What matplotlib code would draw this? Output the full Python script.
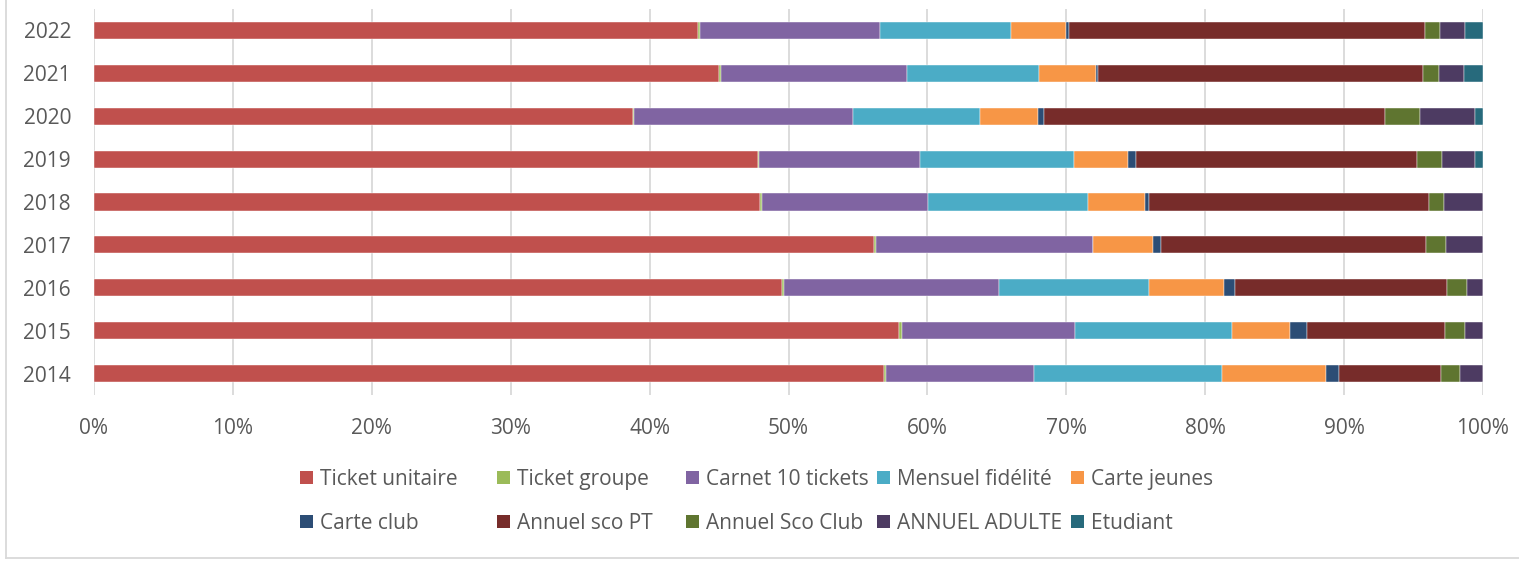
import matplotlib
matplotlib.use("Agg")
import matplotlib.pyplot as plt
from matplotlib.patches import Patch
from matplotlib.lines import Line2D
from matplotlib.ticker import PercentFormatter
import numpy as np

years = ["2014", "2015", "2016", "2017", "2018", "2019", "2020", "2021", "2022"]

series_names = ["Ticket unitaire", "Ticket groupe", "Carnet 10 tickets", "Mensuel fidélité",
                "Carte jeunes", "Carte club", "Annuel sco PT", "Annuel Sco Club",
                "ANNUEL ADULTE", "Etudiant"]

ticket_unitaire = [56.88, 57.98, 49.55, 56.15, 47.95, 47.80, 38.80, 45.00, 43.50]
ticket_groupe = [0.12, 0.20, 0.10, 0.15, 0.12, 0.10, 0.10, 0.15, 0.15]
carnet_10 = [10.67, 12.45, 15.50, 15.65, 11.97, 11.57, 15.74, 13.38, 12.95]
mensuel_fidelite = [13.56, 11.30, 10.80, 0.00, 11.52, 11.08, 9.15, 9.50, 9.40]
carte_jeunes = [7.44, 4.15, 5.40, 4.29, 4.11, 3.89, 4.17, 4.13, 4.00]
carte_club = [0.98, 1.27, 0.82, 0.60, 0.31, 0.60, 0.41, 0.14, 0.20]
annuel_sco_pt = [7.33, 9.91, 15.26, 19.06, 20.13, 20.21, 24.57, 23.36, 25.60]
annuel_sco_club = [1.36, 1.47, 1.42, 1.46, 1.06, 1.82, 2.50, 1.20, 1.10]
annuel_adulte = [1.66, 1.27, 1.15, 2.64, 2.83, 2.35, 3.98, 1.79, 1.80]
etudiant = [0.00, 0.00, 0.00, 0.00, 0.00, 0.58, 0.58, 1.35, 1.30]

series = [ticket_unitaire, ticket_groupe, carnet_10, mensuel_fidelite, carte_jeunes,
          carte_club, annuel_sco_pt, annuel_sco_club, annuel_adulte, etudiant]

colors = ["#C0504D", "#9BBB59", "#8064A2", "#4BACC6", "#F79646",
          "#2C4D75", "#772C2A", "#5F7530", "#4D3B62", "#276A7C"]

plt.rcParams['font.family'] = ['Open Sans', 'DejaVu Sans']
text_color = "#595959"

fig = plt.figure(figsize=(15.19, 5.62), dpi=100)
ax = fig.add_axes([94 / 1519, 1 - 395 / 562, (1483 - 94) / 1519, (395 - 9) / 562])

data = np.array(series, dtype=float)
totals = data.sum(axis=0)
pct = data / totals * 100
y = np.arange(len(years))
left = np.zeros(len(years))
for name, vals, col in zip(series_names, pct, colors):
    ax.barh(y, vals, left=left, height=0.40, color=col, edgecolor="white",
            linewidth=0.3, label=name, zorder=3)
    left += vals

ax.set_xlim(0, 100)
ax.set_ylim(-0.5, len(years) - 0.5)
ax.set_yticks(y)
ax.set_yticklabels(years)
ax.set_xticks(np.arange(0, 101, 10))
ax.xaxis.set_major_formatter(PercentFormatter(decimals=0))
ax.tick_params(axis="both", length=0, labelsize=15, labelcolor=text_color)
ax.tick_params(axis="x", pad=16.5)
ax.tick_params(axis="y", pad=16.5)
ax.grid(axis="x", color="#D9D9D9", linewidth=1.3, zorder=0)
for s in ax.spines.values():
    s.set_visible(False)

# legend: five one-column legends
col_x = [300, 497, 686, 877, 1071]
for c in range(5):
    handles = []
    for r in range(2):
        i = r * 5 + c
        handles.append(Patch(facecolor=colors[i], edgecolor="none", label=series_names[i]))
    fig.legend(handles=handles, loc="upper left",
               bbox_to_anchor=(col_x[c] / 1519, 1 - 469 / 562),
               frameon=False, fontsize=15, labelcolor=text_color,
               handlelength=0.62, handleheight=0.62, handletextpad=0.35,
               labelspacing=1.1, borderpad=0, borderaxespad=0)

# outer chart border (left and bottom visible)
fig.add_artist(Line2D([5.5 / 1519, 5.5 / 1519], [1 - 558 / 562, 1.0],
                      transform=fig.transFigure, color="#D9D9D9", linewidth=1.3))
fig.add_artist(Line2D([5.5 / 1519, 1.0], [1 - 558 / 562, 1 - 558 / 562],
                      transform=fig.transFigure, color="#D9D9D9", linewidth=1.3))

fig.savefig("out.png", dpi=100)
